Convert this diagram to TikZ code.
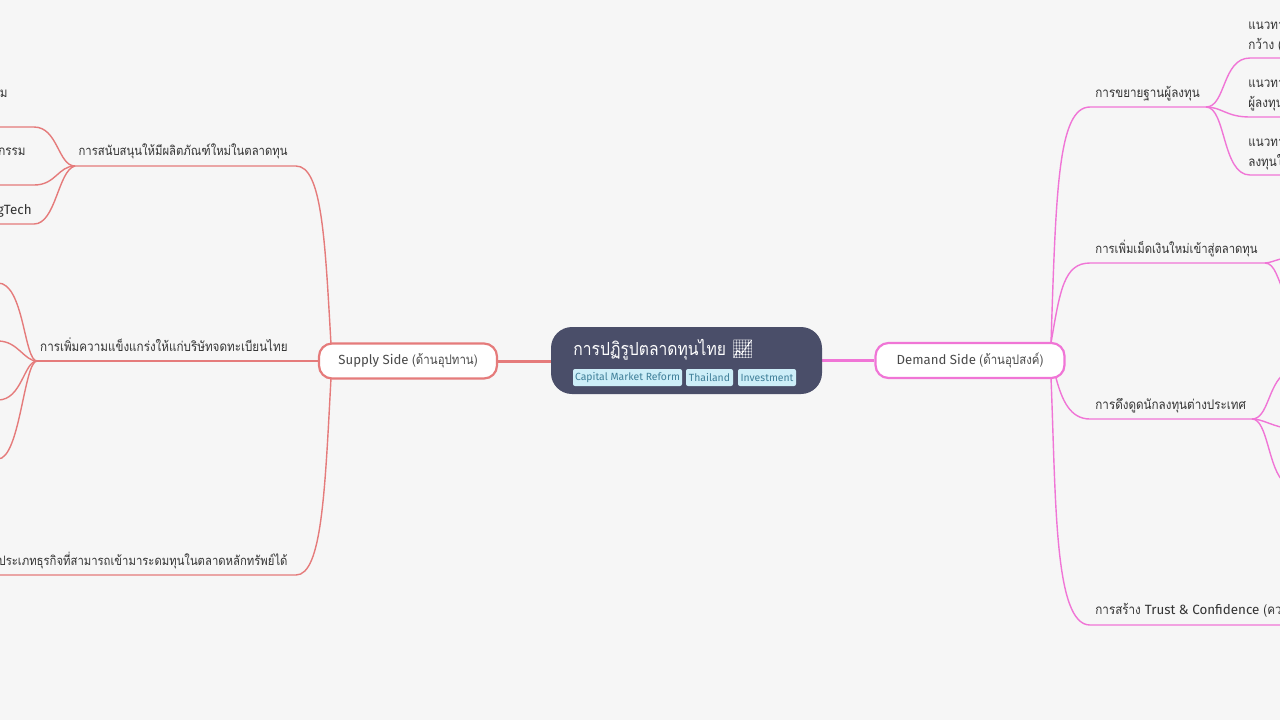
\documentclass[tikz,border=0pt]{standalone}
\usepackage{fontspec}
\setmainfont{Fira Sans}
\newfontfamily\thaifont[Script=Thai,FakeStretch=0.87]{Loma}
\newfontfamily\emojifont{Noto Emoji}
\usepackage{tikz}
\usetikzlibrary{positioning, backgrounds, calc}
\definecolor{pagegray}{HTML}{F6F6F6}
\definecolor{rootblue}{HTML}{4A4E69}
\definecolor{supplyred}{HTML}{E57B7B}
\definecolor{demandpink}{HTML}{F075D6}
\definecolor{tagfill}{HTML}{CDEEF8}
\definecolor{tagtext}{HTML}{3F7F99}
\definecolor{labeltext}{HTML}{333333}
\definecolor{sidetext}{HTML}{4A4A4A}
\tikzset{
  rootbox/.style={ draw=none, fill=rootblue, rounded corners=10.5pt, minimum width=135.5pt, minimum height=33.5pt }
}
\tikzset{
  sidebox/.style={ fill=white, line width=1.1pt, rounded corners=6.5pt, minimum height=17.5pt, text=sidetext, font=\fontsize{6.6}{8}\selectfont, inner sep=0pt }
}
\tikzset{
  tagbox/.style={ fill=tagfill, text=tagtext, rounded corners=1pt, minimum height=8.5pt, inner sep=0pt, font=\fontsize{5.2}{6}\selectfont }
}
\tikzset{
  leaf/.style={ text=labeltext, font=\fontsize{6.7}{8}\selectfont, inner sep=0pt },
  leaftight/.style={ leaf, font=\fontsize{6.5}{8}\selectfont }
}
\tikzset{
  supplyline/.style={ draw=supplyred, line width=0.7pt },
  demandline/.style={ draw=demandpink, line width=0.7pt }
}

\begin{document}
\begin{tikzpicture}[x=0.5pt, y=-0.5pt]
        \useasboundingbox (0, 0) rectangle (1280, 720);
        % middle
        \node[rootbox] (root) at (686.5, 360.5) {};
        \node[anchor=base west, inner sep=0pt, text=white, font=\fontsize{9}{11}\selectfont] (title) at (573, 355) {\thaifont การปฏิรูปตลาดทุนไทย {\emojifont 📈}};
        \node[tagbox, minimum width=54.5pt] (tag1) at (627.5, 377.5) {Capital Market Reform};
        \node[tagbox, minimum width=23.5pt] (tag2) at (709.5, 377.5) {Thailand};
        \node[tagbox, minimum width=29pt] (tag3) at (767, 377.5) {Investment};
        \node[sidebox, draw=supplyred, minimum width=89pt] (supply) at (408, 361) {Supply Side {\thaifont (ด้านอุปทาน)}};
        \node[sidebox, draw=demandpink, minimum width=94.5pt] (demand) at (970, 360.5) {Demand Side {\thaifont (ด้านอุปสงค์)}};
        % left labels
        \node[leaftight, anchor=base east] (s1) at (288, 155) {\thaifont การสนับสนุนให้มีผลิตภัณฑ์ใหม่ในตลาดทุน};
        \node[leaf, anchor=base east] (s2) at (288, 351) {\thaifont การเพิ่มความแข็งแกร่งให้แก่บริษัทจดทะเบียนไทย};
        \node[leaftight, anchor=base east] (s3) at (288, 565) {\thaifont ประเภทธุรกิจที่สามารถเข้ามาระดมทุนในตลาดหลักทรัพย์ได้};
        \node[leaf, anchor=base east] (s1a) at (8, 97) {\thaifont ม};
        \node[leaf, anchor=base east] (s1b) at (26, 155) {\thaifont กรรม};
        \node[leaf, anchor=base east] (s1c) at (32, 214) {gTech};
        % right labels
        \node[leaf, anchor=base west] (d1) at (1095, 97) {\thaifont การขยายฐานผู้ลงทุน};
        \node[leaftight, anchor=base west] (d2) at (1095, 253) {\thaifont การเพิ่มเม็ดเงินใหม่เข้าสู่ตลาดทุน};
        \node[leaf, anchor=base west] (d3) at (1095, 409) {\thaifont การดึงดูดนักลงทุนต่างประเทศ};
        \node[leaf, anchor=base west] (d4) at (1095, 614) {\thaifont การสร้าง {\rmfamily Trust \& Confidence} (ควา};
        \node[leaf, anchor=base west] (d1a) at (1248, 29) {\thaifont แนวทาง};
        \node[leaf, anchor=base west] (d1b) at (1248, 49) {\thaifont กว้าง (};
        \node[leaf, anchor=base west] (d1c) at (1248, 87) {\thaifont แนวทาง};
        \node[leaf, anchor=base west] (d1d) at (1248, 107) {\thaifont ผู้ลงทุน};
        \node[leaf, anchor=base west] (d1e) at (1248, 146) {\thaifont แนวทาง};
        \node[leaf, anchor=base west] (d1f) at (1248, 166) {\thaifont ลงทุนใ};
        % junctions
        \coordinate (js1) at (75, 166);
        \coordinate (js2) at (37, 361);
        \coordinate (jd1) at (1206, 107);
        \coordinate (jd2) at (1265, 263);
        \coordinate (jd3) at (1252, 419);
        \coordinate (st) at (331, 344);
        \coordinate (sb) at (331, 378);
        \coordinate (dt) at (1051, 343);
        \coordinate (dm) at (1056, 378);
        \coordinate (db) at (1051, 378);
        \begin{scope}[on background layer]
          \fill[pagegray] (0, 0) rectangle (1280, 720);
          \draw[supplyred, line width=1.5pt] (root.west |- supply.east) -- (supply.east);
          \draw[demandpink, line width=1.5pt] (root.east |- demand.west) -- (demand.west);
          % supply side
          \draw[supplyline] (st) .. controls (325, 240) and (322, 166) .. (296, 166) -- (js1);
          \draw[supplyline] (supply.west) -- (js2);
          \draw[supplyline] (sb) .. controls (325, 490) and (322, 575) .. (296, 575) -- (-5, 575);
          \draw[supplyline] (js1) .. controls (58, 166) and (58, 127) .. (34, 127) -- (-5, 127);
          \draw[supplyline] (js1) .. controls (58, 166) and (56, 185) .. (34, 185) -- (-5, 185);
          \draw[supplyline] (js1) .. controls (58, 170) and (56, 224) .. (34, 224) -- (-5, 224);
          \draw[supplyline] (js2) .. controls (24, 361) and (24, 283) .. (-2, 283);
          \draw[supplyline] (js2) .. controls (24, 361) and (18, 341) .. (-2, 341);
          \draw[supplyline] (js2) .. controls (24, 361) and (22, 400) .. (-2, 400);
          \draw[supplyline] (js2) .. controls (24, 361) and (20, 459) .. (-2, 459);
          % demand side
          \draw[demandline] (dt) .. controls (1056, 190) and (1058, 107) .. (1090, 107) -- (jd1);
          \draw[demandline] (dt) .. controls (1060, 290) and (1064, 263) .. (1090, 263) -- (jd2);
          \draw[demandline] (dm) .. controls (1062, 400) and (1070, 419) .. (1090, 419) -- (jd3);
          \draw[demandline] (db) .. controls (1056, 500) and (1054, 625) .. (1090, 625) -- (1285, 625);
          \draw[demandline] (jd1) .. controls (1226, 107) and (1222, 58) .. (1250, 58) -- (1285, 58);
          \draw[demandline] (jd1) .. controls (1222, 107) and (1226, 117) .. (1250, 117) -- (1285, 117);
          \draw[demandline] (jd1) .. controls (1226, 107) and (1222, 175) .. (1250, 175) -- (1285, 175);
          \draw[demandline] (jd2) .. controls (1270, 263) and (1275, 260) .. (1285, 258);
          \draw[demandline] (jd2) .. controls (1275, 263) and (1278, 280) .. (1285, 295);
          \draw[demandline] (jd3) .. controls (1268, 419) and (1268, 385) .. (1285, 373);
          \draw[demandline] (jd3) .. controls (1262, 419) and (1270, 425) .. (1285, 428);
          \draw[demandline] (jd3) .. controls (1268, 419) and (1268, 470) .. (1285, 483);
        \end{scope}
      \end{tikzpicture}
\end{document}
